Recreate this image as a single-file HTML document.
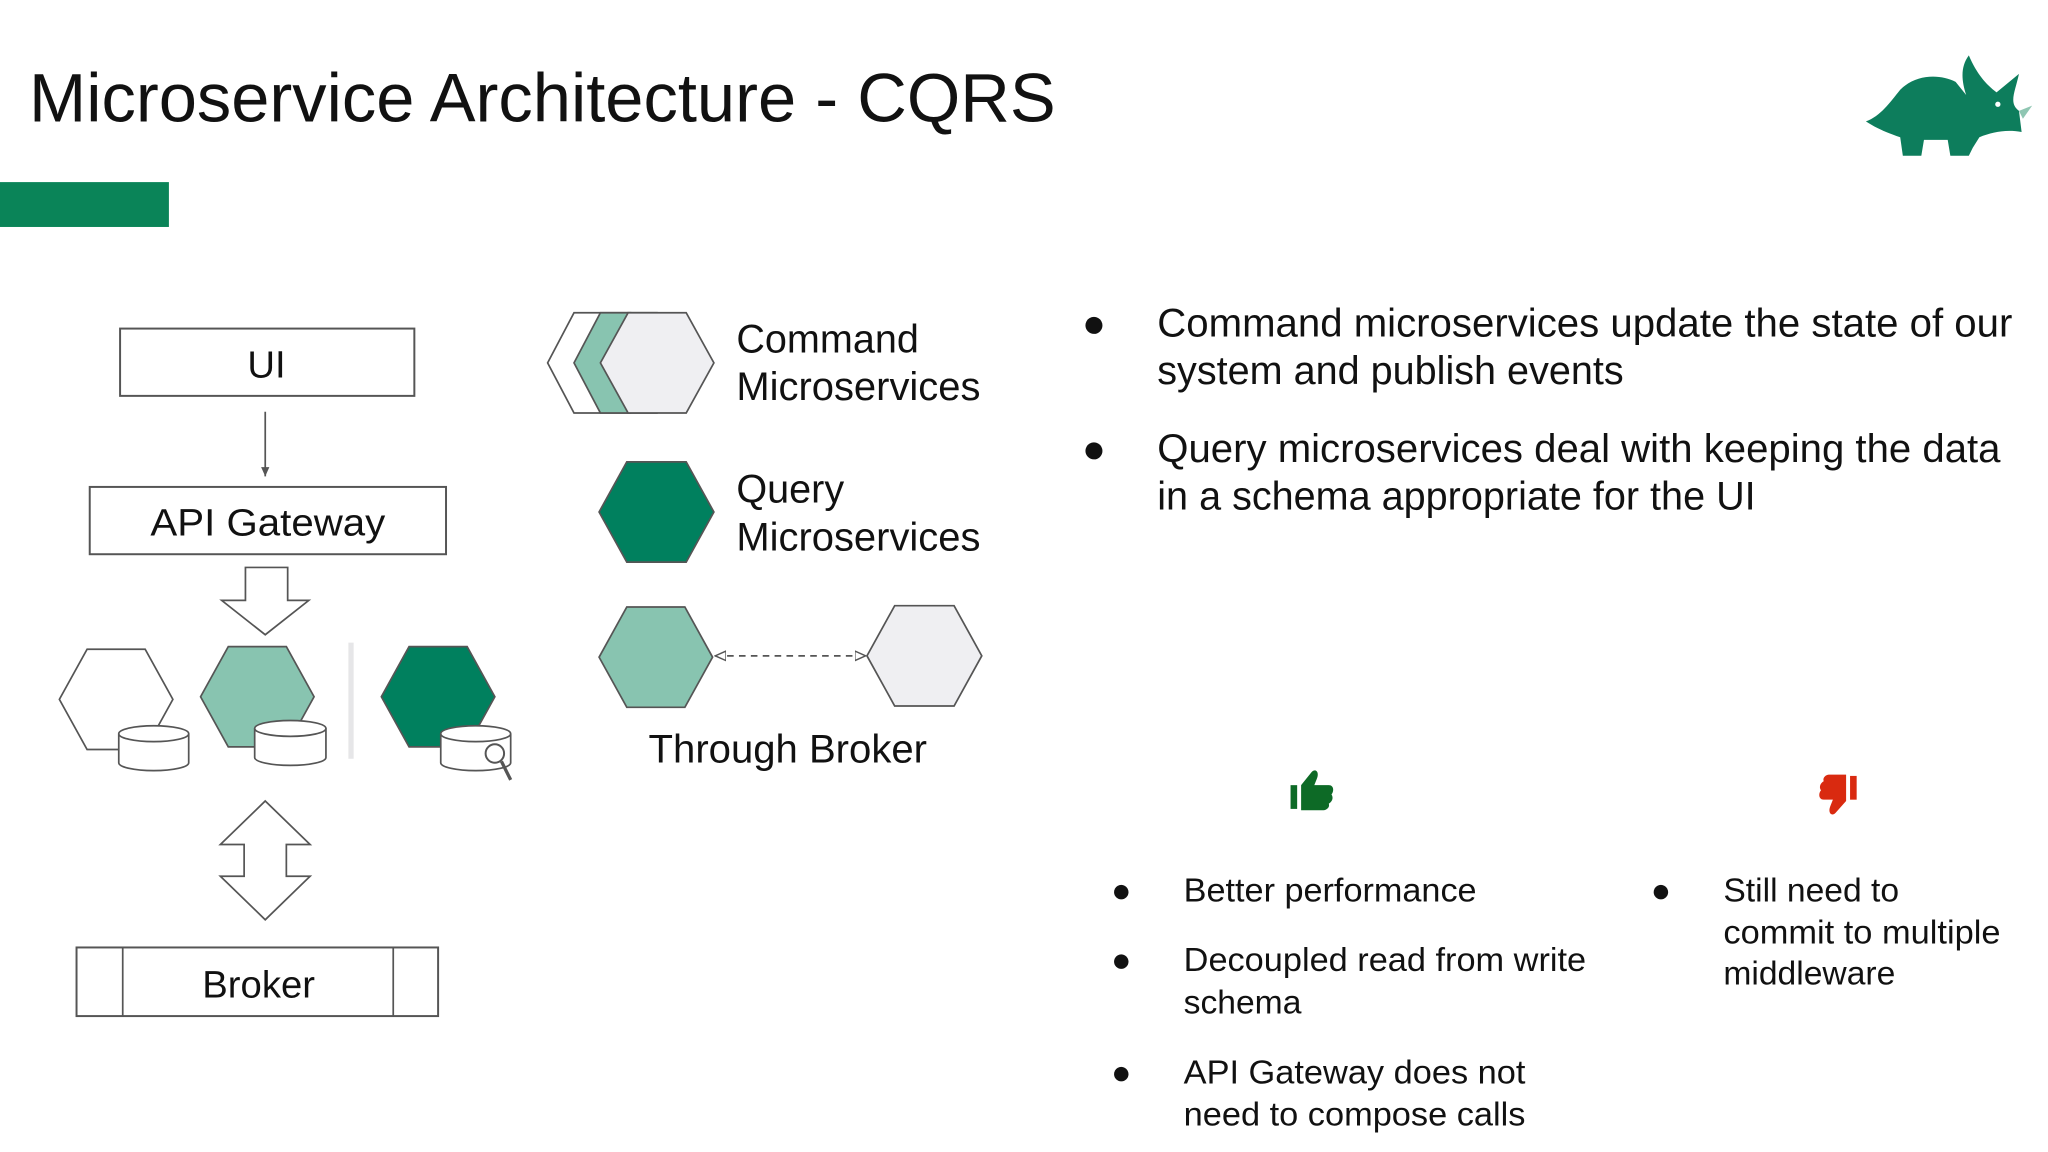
<!DOCTYPE html>
<html><head><meta charset="utf-8"><style>html,body{margin:0;padding:0;background:#fff}svg{display:block}text{font-family:"Liberation Sans",Arial,sans-serif;fill:#111}</style></head>
<body>
<svg width="2048" height="1152" viewBox="0 0 1552 873" xmlns="http://www.w3.org/2000/svg">
<defs>
<marker id="ah" viewBox="0 0 10 10" refX="9" refY="5" markerWidth="7" markerHeight="7" orient="auto-start-reverse"><path d="M0,1 L9,5 L0,9 z" fill="#fff" stroke="#555" stroke-width="1.2"/></marker>
<marker id="ah2" viewBox="0 0 10 10" refX="9" refY="5" markerWidth="6" markerHeight="6" orient="auto"><path d="M0,1 L9,5 L0,9 z" fill="#555"/></marker>
</defs>
<rect width="1552" height="873" fill="#fff"/>
<text x="22" y="92" font-size="52" textLength="778" lengthAdjust="spacingAndGlyphs">Microservice Architecture - CQRS</text>
<rect x="0" y="138" width="128" height="34" fill="#0a8458"/>
<!-- logo -->
<g fill="#0d7d5c">
<path d="M1414,92 C1425,88 1432,78 1440,68 C1452,56 1470,56 1482,62 L1490,72 C1486,60 1486,50 1492,42 C1498,56 1505,64 1513,70 L1530,56 C1527,70 1522,78 1530,84 L1532,100 C1520,98 1510,100 1500,104 L1495,112 L1492,118 L1478,118 L1476,106 L1458,106 L1456,118 L1442,118 L1440,104 C1428,100 1420,96 1414,92 Z"/>
</g>
<path d="M1530,84 L1540,80 L1533,90 Z" fill="#8fc6b2"/>
<circle cx="1514" cy="79" r="2" fill="#fff"/>
<!-- UI -->
<rect x="91" y="249" width="223" height="51" fill="#fff" stroke="#555" stroke-width="1.5"/>
<text x="202" y="286" font-size="29" text-anchor="middle">UI</text>
<line x1="201" y1="312" x2="201" y2="361" stroke="#555" stroke-width="1.3" marker-end="url(#ah2)"/>
<rect x="68" y="369" width="270" height="51" fill="#fff" stroke="#555" stroke-width="1.5"/>
<text x="203" y="406" font-size="29" text-anchor="middle" textLength="178" lengthAdjust="spacingAndGlyphs">API Gateway</text>
<path d="M186,430 L218,430 L218,455 L234,455 L201,481 L168,455 L186,455 Z" fill="#fff" stroke="#555" stroke-width="1.3"/>
<!-- hexes -->
<polygon points="66,492 110,492 131,530 110,568 66,568 45,530" fill="#fff" stroke="#555" stroke-width="1.3"/>
<g stroke="#555" stroke-width="1.3" fill="#fff"><path d="M90,556 L90,578 A26.5,6 0 0 0 143,578 L143,556"/><ellipse cx="116.5" cy="556" rx="26.5" ry="6"/></g>
<polygon points="173,490 217,490 238,528 217,566 173,566 152,528" fill="#88c4b0" stroke="#555" stroke-width="1.3"/>
<g stroke="#555" stroke-width="1.3" fill="#fff"><path d="M193,552 L193,574 A27,6 0 0 0 247,574 L247,552"/><ellipse cx="220" cy="552" rx="27" ry="6"/></g>
<line x1="266" y1="487" x2="266" y2="575" stroke="#e6e6e8" stroke-width="4"/>
<polygon points="310,490 354,490 375,528 354,566 310,566 289,528" fill="#00805e" stroke="#555" stroke-width="1.3"/>
<g stroke="#555" stroke-width="1.3" fill="#fff"><path d="M334,556 L334,578 A26.5,6 0 0 0 387,578 L387,556"/><ellipse cx="360.5" cy="556" rx="26.5" ry="6"/></g>
<circle cx="375" cy="571" r="7" fill="#fff" stroke="#555" stroke-width="1.5"/>
<line x1="380" y1="577" x2="387" y2="591" stroke="#555" stroke-width="2.5"/>
<path d="M201,607 L235,640 L217,640 L217,664 L235,664 L201,697 L167,664 L185,664 L185,640 L167,640 Z" fill="#fff" stroke="#555" stroke-width="1.3"/>
<rect x="58" y="718" width="274" height="52" fill="#fff" stroke="#555" stroke-width="1.5"/>
<line x1="93" y1="718" x2="93" y2="770" stroke="#555" stroke-width="1.3"/>
<line x1="298" y1="718" x2="298" y2="770" stroke="#555" stroke-width="1.3"/>
<text x="196" y="756" font-size="29" text-anchor="middle">Broker</text>
<!-- legend -->
<polygon points="435,237 478,237 500,275 478,313 435,313 415,275" fill="#fff" stroke="#555" stroke-width="1.3"/>
<polygon points="455,237 498,237 520,275 498,313 455,313 435,275" fill="#88c4b0" stroke="#555" stroke-width="1.3"/>
<polygon points="476,237 520,237 541,275 520,313 476,313 455,275" fill="#efeff2" stroke="#555" stroke-width="1.3"/>
<g font-size="30">
<text x="558" y="267">Command</text>
<text x="558" y="303" textLength="185" lengthAdjust="spacingAndGlyphs">Microservices</text>
<text x="558" y="381">Query</text>
<text x="558" y="417" textLength="185" lengthAdjust="spacingAndGlyphs">Microservices</text>
<text x="597" y="578" text-anchor="middle" textLength="211" lengthAdjust="spacingAndGlyphs">Through Broker</text>
</g>
<polygon points="475,350 520,350 541,388 520,426 475,426 454,388" fill="#00805e" stroke="#555" stroke-width="1.3"/>
<polygon points="475,460 519,460 540,498 519,536 475,536 454,498" fill="#88c4b0" stroke="#555" stroke-width="1.3"/>
<polygon points="678,459 723,459 744,497 723,535 678,535 657,497" fill="#efeff2" stroke="#555" stroke-width="1.3"/>
<line x1="542" y1="497" x2="656" y2="497" stroke="#555" stroke-width="1.3" stroke-dasharray="5,4" marker-start="url(#ah)" marker-end="url(#ah)"/>
<!-- bullets -->
<g font-size="30">
<text x="820" y="255">●</text><text x="877" y="255" textLength="648" lengthAdjust="spacingAndGlyphs">Command microservices update the state of our</text>
<text x="877" y="291">system and publish events</text>
<text x="820" y="350">●</text><text x="877" y="350" textLength="639" lengthAdjust="spacingAndGlyphs">Query microservices deal with keeping the data</text>
<text x="877" y="386">in a schema appropriate for the UI</text>
</g>
<!-- thumbs -->
<g fill="#0d6a26"><rect x="978" y="595" width="5" height="18"/><path d="M986,595 L994,585 C997,582 1000,585 998,590 L996,595 L1007,595 C1011,595 1011,600 1009,602 C1011,605 1009,608 1007,609 C1008,612 1005,614 1003,614 L986,614 Z"/></g>
<g fill="#d92a10"><rect x="1402" y="588" width="5" height="18"/><path d="M1399,607 L1391,616 C1388,619 1385,616 1387,611 L1389,606 L1382,606 C1378,606 1378,601 1380,599 C1378,596 1380,593 1382,592 C1381,589 1384,587 1386,587 L1399,587 Z"/></g>
<g font-size="25.5">
<text x="842" y="683">●</text><text x="897" y="683" textLength="222" lengthAdjust="spacingAndGlyphs">Better performance</text>
<text x="842" y="736">●</text><text x="897" y="736" textLength="305" lengthAdjust="spacingAndGlyphs">Decoupled read from write</text>
<text x="897" y="768">schema</text>
<text x="842" y="821">●</text><text x="897" y="821" textLength="259" lengthAdjust="spacingAndGlyphs">API Gateway does not</text>
<text x="897" y="853" textLength="259" lengthAdjust="spacingAndGlyphs">need to compose calls</text>
<text x="1251" y="683">●</text><text x="1306" y="683">Still need to</text>
<text x="1306" y="715" textLength="210" lengthAdjust="spacingAndGlyphs">commit to multiple</text>
<text x="1306" y="746">middleware</text>
</g>
</svg>
</body></html>
